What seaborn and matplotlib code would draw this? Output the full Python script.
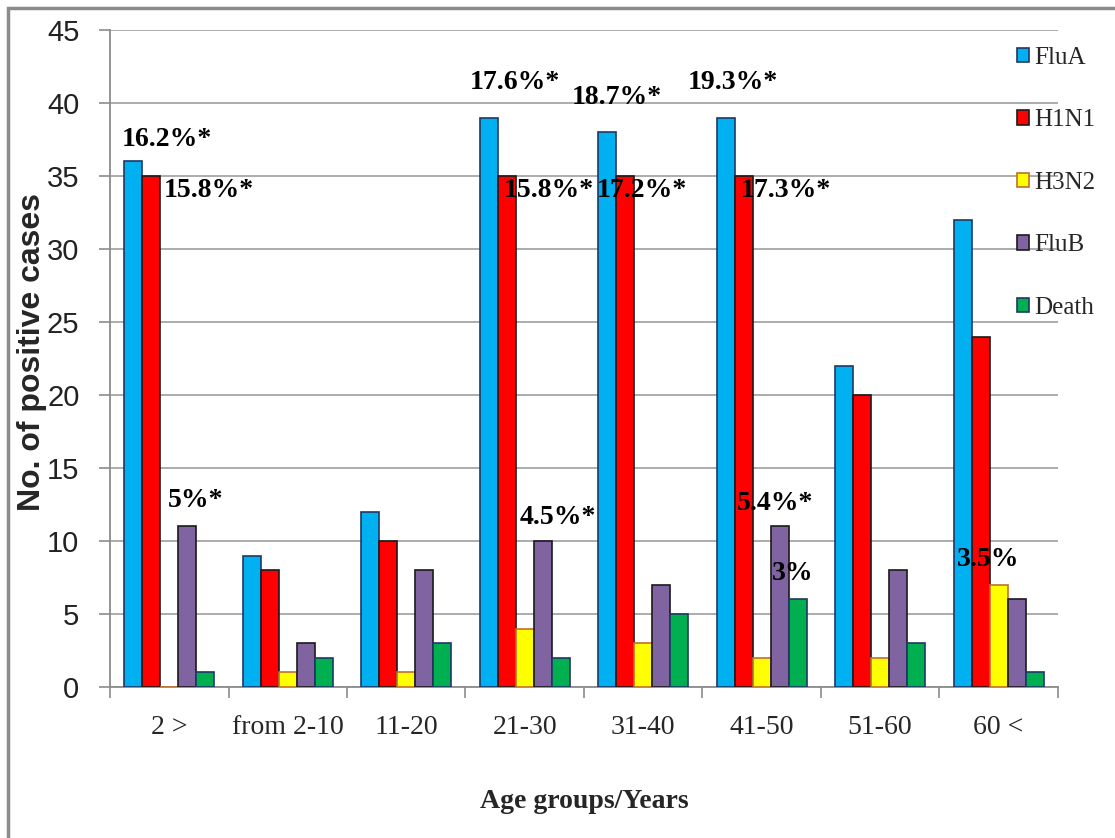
# %%

import pandas as pd
import matplotlib
matplotlib.use("Agg")
import matplotlib.pyplot as plt
import seaborn as sns
from matplotlib.patches import Rectangle

# %%

age_groups = ["2 >", "from 2-10", "11-20", "21-30", "31-40", "41-50", "51-60", "60 <"]
flu_a = [36, 9, 12, 39, 38, 39, 22, 32]
h1n1 = [35, 8, 10, 35, 35, 35, 20, 24]
h3n2 = [0, 1, 1, 4, 3, 2, 2, 7]
flu_b = [11, 3, 8, 10, 7, 11, 8, 6]
death = [1, 2, 3, 2, 5, 6, 3, 1]
series_names = ["FluA", "H1N1", "H3N2", "FluB", "Death"]

pct_labels = ["16.2%*", "15.8%*", "5%*", "17.6%*", "15.8%*", "4.5%*",
              "18.7%*", "17.2%*", "19.3%*", "17.3%*", "5.4%*", "3%", "3.5%"]

# where the percent labels sit (left edge, vertical centre in data units)
lab_x = [-0.40, -0.05, -0.01, 2.54, 2.82, 2.96, 3.40, 3.61, 4.38, 4.82, 4.79, 5.09, 6.65]
lab_y = [37.5, 34.0, 12.8, 41.4, 34.0, 11.6, 40.4, 34.0, 41.4, 34.0, 12.6, 7.8, 8.7]

colors = ["#00B0F0", "#FF0000", "#FFFF00", "#8064A2", "#00B050"]
edges = ["#1F3864", "#1a1a1a", "#C0702A", "#1a1a1a", "#1F3864"]

# %%

df = pd.DataFrame({"age": age_groups, "FluA": flu_a, "H1N1": h1n1,
                   "H3N2": h3n2, "FluB": flu_b, "Death": death})
df = df.melt(id_vars="age", var_name="type", value_name="cases")

sns.set_theme(style="white")

fig = plt.figure(figsize=(11.15, 8.38), dpi=100)
ax = fig.add_axes([0.0987, 0.1802, 0.850, 0.784])

sns.barplot(df, x="age", y="cases", hue="type", hue_order=series_names,
            palette=colors, saturation=1, width=0.76, gap=0, linewidth=1.2,
            legend=False, ax=ax, zorder=3)

for cont, ec in zip(ax.containers, edges):
    for p in cont.patches:
        p.set_edgecolor(ec)

ax.set_ylim(0, 45)
ax.set_xlim(-0.5, 7.5)
ax.set_yticks(range(0, 50, 5))
ax.yaxis.grid(True, color="#A6A6A6", linewidth=1.3, zorder=0)
ax.set_axisbelow(True)

for s in ["top", "right"]:
    ax.spines[s].set_visible(False)
for s in ["left", "bottom"]:
    ax.spines[s].set_color("#8C8C8C")
    ax.spines[s].set_linewidth(1.3)

# ticks at group boundaries, labels under group centres
ax.set_xticks([i - 0.5 for i in range(len(age_groups) + 1)])
ax.set_xticklabels([])
ax.set_xticks(range(len(age_groups)), minor=True)
ax.set_xticklabels(age_groups, minor=True, family="Liberation Serif", fontsize=20)
ax.tick_params(axis="x", which="major", length=8, width=1.2, color="#8C8C8C", direction="out", bottom=True)
ax.tick_params(axis="x", which="minor", length=0, pad=20)
ax.tick_params(axis="y", length=8, width=1.2, color="#8C8C8C", direction="out", left=True, pad=14)
for t in ax.get_yticklabels():
    t.set_family("Liberation Sans")
    t.set_fontsize(21)
    t.set_color("#222222")

ax.set_xlabel("Age groups/Years", family="Liberation Serif", fontweight="bold", fontsize=20)
ax.xaxis.set_label_coords(0.5, -0.155)
ax.set_ylabel("No. of positive cases", family="Liberation Sans", fontweight="bold", fontsize=23)
ax.yaxis.set_label_coords(-0.066, 0.51)

for txt, x, y in zip(pct_labels, lab_x, lab_y):
    ax.text(x, y, txt, ha="left", va="center", family="Liberation Serif",
            fontweight="bold", fontsize=20, color="black", zorder=5)

ax.legend(ax.containers, series_names, loc="upper left", bbox_to_anchor=(0.912, 0.944),
          bbox_transform=fig.transFigure, frameon=False, borderpad=0, borderaxespad=0,
          handlelength=0.5, handleheight=0.5, handletextpad=0.2, labelspacing=1.62,
          prop={"family": "Liberation Serif", "size": 18})

fig.patches.append(Rectangle((0.0072, -0.05), 1.1, 1.0405, transform=fig.transFigure,
                             fill=False, edgecolor="#8C8C8C", linewidth=2.5))

plt.savefig("out.png", dpi=100)
